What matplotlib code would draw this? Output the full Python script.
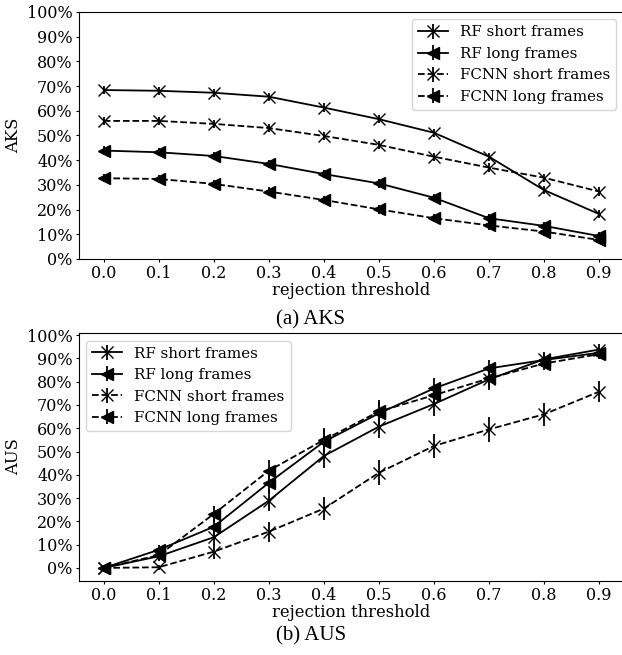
import numpy as np
import matplotlib
matplotlib.use("Agg")
import matplotlib.pyplot as plt
from matplotlib.ticker import FuncFormatter

plt.rcParams['font.family'] = 'DejaVu Serif'

thresholds = [0.0, 0.1, 0.2, 0.3, 0.4, 0.5, 0.6, 0.7, 0.8, 0.9]
labels = ["RF short frames", "RF long frames", "FCNN short frames", "FCNN long frames"]

# AKS (top)
aks_rf_short = [68.4, 68.1, 67.3, 65.7, 61.3, 56.6, 51.1, 41.4, 27.9, 18.2]
aks_rf_long = [43.9, 43.2, 41.7, 38.5, 34.4, 30.6, 24.8, 16.5, 13.4, 9.3]
aks_fcnn_short = [55.9, 55.9, 54.7, 53.0, 49.8, 46.2, 41.4, 37.0, 32.9, 27.3]
aks_fcnn_long = [32.7, 32.4, 30.4, 27.3, 23.9, 20.1, 16.5, 13.6, 11.1, 7.7]
aks_err = [1.7, 1.7, 1.7, 1.7, 1.7, 1.7, 1.7, 1.7, 1.7, 1.7]

# AUS (bottom)
aus_rf_short = [0.0, 5.0, 13.2, 28.9, 48.1, 60.7, 70.4, 81.0, 89.6, 93.8]
aus_rf_long = [0.0, 7.8, 17.7, 36.6, 54.2, 66.4, 77.1, 85.7, 89.3, 92.4]
aus_fcnn_short = [0.0, 0.3, 7.0, 15.6, 25.5, 40.9, 52.4, 59.5, 66.0, 75.7]
aus_fcnn_long = [0.0, 5.5, 23.2, 41.8, 55.0, 67.2, 74.2, 81.4, 87.8, 91.8]
aus_err_rf_short = [0.0, 2.0, 3.5, 4.5, 5.0, 5.0, 5.0, 4.5, 3.0, 2.5]
aus_err_rf_long = [0.0, 2.0, 3.5, 4.5, 5.0, 5.0, 4.5, 3.5, 3.0, 2.0]
aus_err_fcnn_short = [0.0, 1.0, 3.1, 4.3, 5.0, 5.4, 5.1, 5.2, 5.0, 4.6]
aus_err_fcnn_long = [0.0, 2.0, 3.5, 4.5, 5.0, 5.0, 4.5, 3.5, 3.0, 2.0]

fig = plt.figure(figsize=(6.22, 6.55), dpi=100)
ax1 = fig.add_axes([0.127, 0.6046, 0.876, 0.3771])
ax2 = fig.add_axes([0.127, 0.1130, 0.876, 0.3786])

pct = FuncFormatter(lambda v, p: "%d%%" % round(v))


def draw(ax, series, errs, name):
    styles = [('x', '-'), ('<', '-'), ('x', '--'), ('<', '--')]
    for (m, ls), vals, e, lab in zip(styles, series, errs, labels):
        ax.errorbar(thresholds, vals, yerr=e, marker=m, linestyle=ls, color='black',
                    markersize=8, linewidth=1.3, elinewidth=1.3, label=lab)
    ax.set_xticks(thresholds)
    ax.set_yticks(np.arange(0, 101, 10))
    ax.yaxis.set_major_formatter(pct)
    ax.tick_params(labelsize=11.5, length=2.5, pad=2)
    ax.set_xlabel("rejection threshold", fontsize=11.8, labelpad=0)
    ax.set_ylabel(name, fontsize=11.8)
    ax.yaxis.set_label_coords(-0.104, 0.5)


draw(ax1, [aks_rf_short, aks_rf_long, aks_fcnn_short, aks_fcnn_long], [aks_err] * 4, "AKS")
ax1.set_ylim(0, 100)
ax1.legend(loc='upper right', fontsize=10.8)

draw(ax2, [aus_rf_short, aus_rf_long, aus_fcnn_short, aus_fcnn_long],
     [aus_err_rf_short, aus_err_rf_long, aus_err_fcnn_short, aus_err_fcnn_long], "AUS")
ax2.set_ylim(-5.6, 100.9)
ax2.legend(loc='upper left', fontsize=10.8)

fig.text(0.5, 1 - 320 / 655, "(a) AKS", ha='center', va='center',
         fontsize=15, family='Liberation Serif')
fig.text(0.5, 1 - 636 / 655, "(b) AUS", ha='center', va='center',
         fontsize=15, family='Liberation Serif')

fig.savefig("out.png", dpi=100)
